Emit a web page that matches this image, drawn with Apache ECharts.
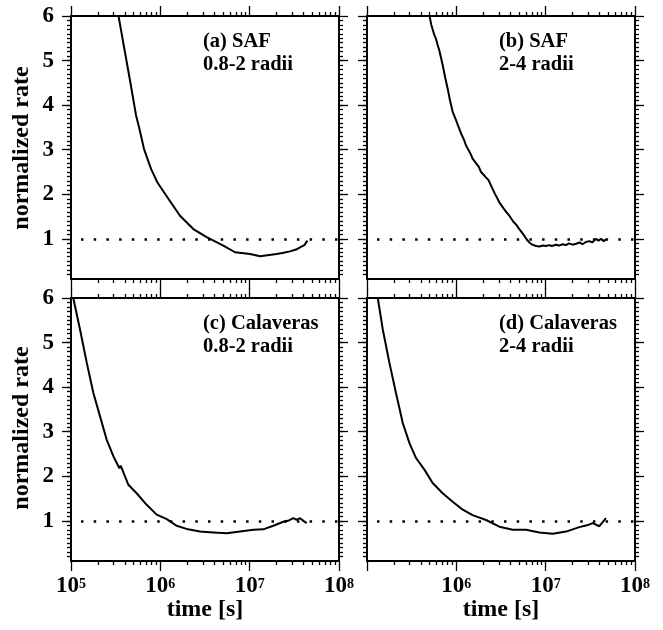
<!DOCTYPE html>
<html>
<head>
<meta charset="utf-8">
<script src="https://cdn.jsdelivr.net/npm/echarts@6/dist/echarts.min.js"></script>
<style>html,body{margin:0;padding:0;background:#fff}#c{width:663px;height:630px}</style>
</head>
<body>
<div id="c"></div>
<script>
// ---- data: time [s] and normalized rate ----
const timeA = [3.39e5,3.95e5,4.61e5,5.35e5,5.77e5,6.56e5,7.87e5,9.25e5,1.23e6,1.66e6,2.34e6,3.30e6,5.07e6,6.86e6,1.01e7,1.31e7,1.66e7,2.00e7,2.40e7,2.82e7,3.31e7,3.66e7,4.10e7,4.43e7];
const rateA = [6.02,5.27,4.52,3.77,3.51,3.02,2.57,2.27,1.90,1.52,1.22,1.04,0.85,0.70,0.66,0.61,0.64,0.66,0.69,0.72,0.76,0.81,0.86,0.96];

const timeB = [4.99e5,5.25e5,5.43e5,5.68e5,5.89e5,6.18e5,6.46e5,6.61e5,7.03e5,7.50e5,8.00e5,8.51e5,9.10e5,9.77e5,1.02e6,1.08e6,1.15e6,1.22e6,1.28e6,1.38e6,1.45e6,1.52e6,1.66e6,1.78e6,1.89e6,2.00e6,2.14e6,2.29e6,2.44e6,2.69e6,3.03e6,3.39e6,3.63e6,3.92e6,4.37e6,4.68e6,5.07e6,5.62e6,6.17e6,6.56e6,7.08e6,7.80e6,8.51e6,9.33e6,1.01e7,1.10e7,1.17e7,1.31e7,1.41e7,1.55e7,1.69e7,1.82e7,2.00e7,2.19e7,2.40e7,2.57e7,2.82e7,3.09e7,3.31e7,3.66e7,3.89e7,4.17e7,4.47e7,4.73e7];
const rateB = [6.02,5.80,5.78,5.57,5.50,5.35,5.22,5.25,4.90,4.62,4.37,4.10,3.85,3.70,3.60,3.47,3.33,3.22,3.10,2.98,2.90,2.80,2.70,2.62,2.50,2.45,2.38,2.32,2.20,2.02,1.82,1.68,1.60,1.52,1.38,1.32,1.22,1.10,0.98,0.92,0.87,0.84,0.83,0.85,0.84,0.86,0.84,0.87,0.85,0.88,0.86,0.90,0.87,0.89,0.92,0.88,0.93,0.95,0.92,1.00,0.96,1.00,0.95,0.99];

const timeC = [1.06e5,1.26e5,1.50e5,1.78e5,2.11e5,2.51e5,2.98e5,3.48e5,3.60e5,4.39e5,5.43e5,7.03e5,9.10e5,1.18e6,1.52e6,1.97e6,2.78e6,3.92e6,5.53e6,7.80e6,1.10e7,1.42e7,1.84e7,2.38e7,2.75e7,3.08e7,3.36e7,3.66e7,4.00e7,4.35e7];
const rateC = [6.00,5.30,4.55,3.87,3.35,2.82,2.45,2.18,2.24,1.81,1.62,1.36,1.14,1.04,0.89,0.82,0.76,0.74,0.72,0.76,0.80,0.81,0.89,0.98,1.01,1.06,1.02,1.06,1.00,0.95];

const timeD = [1.32e5,1.50e5,1.78e5,2.11e5,2.51e5,2.98e5,3.54e5,4.39e5,5.43e5,7.03e5,9.10e5,1.18e6,1.52e6,2.15e6,3.03e6,4.28e6,6.03e6,8.49e6,1.20e7,1.69e7,2.38e7,2.90e7,3.36e7,3.99e7,4.35e7,4.73e7];
const rateD = [6.00,5.30,4.55,3.87,3.20,2.75,2.41,2.15,1.85,1.62,1.43,1.25,1.13,1.02,0.87,0.80,0.80,0.74,0.71,0.76,0.86,0.90,0.95,0.88,0.97,1.06];

const panelLabels = [["(a) SAF","0.8-2 radii"],["(b) SAF","2-4 radii"],["(c) Calaveras","0.8-2 radii"],["(d) Calaveras","2-4 radii"]];
const xMajor = [1e5,1e6,1e7,1e8];
const xMinor = [2e5,3e5,4e5,5e5,6e5,7e5,8e5,9e5,2e6,3e6,4e6,5e6,6e6,7e6,8e6,9e6,2e7,3e7,4e7,5e7,6e7,7e7,8e7,9e7];
const xLabelsLeft = [1e5,1e6,1e7,1e8];
const xLabelsRight = [1e6,1e7,1e8];
const yMajor = [1,2,3,4,5,6];
const yMinor = [];
for (let i = 2; i <= 59; i++) yMinor.push(i / 10);
const refLevel = 1;

const FONT = 'Liberation Serif';
const grids = [
  {left:71, top:16, width:268, height:263},
  {left:367, top:16, width:268, height:263},
  {left:71, top:298, width:268, height:263},
  {left:367, top:298, width:268, height:263}
];

const xAxis = [], yAxis = [];
grids.forEach((g, gi) => {
  const bottomRow = gi >= 2, leftCol = gi % 2 === 0;
  ['bottom','top'].forEach(pos => {
    [true,false].forEach(major => {
      xAxis.push({
        type:'log', logBase:10, min:1e5, max:1e8, gridIndex:gi, position:pos,
        axisLine:{show:major, lineStyle:{color:'#000', width:2}},
        axisTick:{show:true, inside:false, length: major?10:4, customValues: major?xMajor:xMinor, lineStyle:{color:'#000', width:1.3}},
        splitLine:{show:false}, minorTick:{show:false},
        axisLabel:{
          show: major && pos==='bottom' && bottomRow, margin:14,
          customValues: leftCol ? xLabelsLeft : xLabelsRight,
          formatter: v => '{b|10}{s|' + Math.round(Math.log10(v)) + '}',
          rich:{ b:{fontFamily:FONT, fontWeight:'bold', fontSize:23, color:'#000', verticalAlign:'bottom'},
                 s:{fontFamily:FONT, fontWeight:'bold', fontSize:14, color:'#000', verticalAlign:'bottom', padding:[0,0,7,0]} }
        }
      });
    });
  });
  ['left','right'].forEach(pos => {
    [true,false].forEach(major => {
      yAxis.push({
        type:'value', min:0.1, max:6, gridIndex:gi, position:pos,
        axisLine:{show:major, lineStyle:{color:'#000', width:2}},
        axisTick:{show:true, inside:false, length: major?9:4, customValues: major?yMajor:yMinor, lineStyle:{color:'#000', width:1.3}},
        splitLine:{show:false},
        axisLabel:{show: major && pos==='left' && leftCol, margin:17, customValues:yMajor,
          fontFamily:FONT, fontWeight:'bold', fontSize:23, color:'#000'}
      });
    });
  });
});

const times = [timeA,timeB,timeC,timeD], rates = [rateA,rateB,rateC,rateD];
const series = times.map((t, i) => ({
  type:'line', xAxisIndex:i*4, yAxisIndex:i*4, showSymbol:false, symbol:'none', clip:true,
  data: t.map((v, j) => [v, rates[i][j]]),
  lineStyle:{color:'#000', width:2},
  markLine:{silent:true, symbol:'none', label:{show:false},
    lineStyle:{color:'#000', type:[2.5,10.2], width:2.5, dashOffset:-10},
    data:[{yAxis:refLevel}]}
}));

const graphic = [];
grids.forEach((g, gi) => {
  graphic.push({type:'text', x:g.left+132, y:g.top+15,
    style:{text:panelLabels[gi][0], font:'bold 20.5px "Liberation Serif"', fill:'#000', verticalAlign:'top'}});
  graphic.push({type:'text', x:g.left+132, y:g.top+38,
    style:{text:panelLabels[gi][1], font:'bold 20.5px "Liberation Serif"', fill:'#000', verticalAlign:'top'}});
});
[148, 428].forEach(cy => graphic.push({type:'text', x:22, y:cy, rotation:Math.PI/2,
  style:{text:'normalized rate', font:'bold 24px "Liberation Serif"', fill:'#000', align:'center', verticalAlign:'middle'}}));
[205, 501].forEach(cx => graphic.push({type:'text', x:cx, y:610,
  style:{text:'time [s]', font:'bold 24px "Liberation Serif"', fill:'#000', align:'center', verticalAlign:'middle'}}));

const chart = echarts.init(document.getElementById('c'), null, {renderer:'canvas'});
chart.setOption({animation:false, backgroundColor:'#fff', grid:grids, xAxis, yAxis, series, graphic});
</script>
</body>
</html>
